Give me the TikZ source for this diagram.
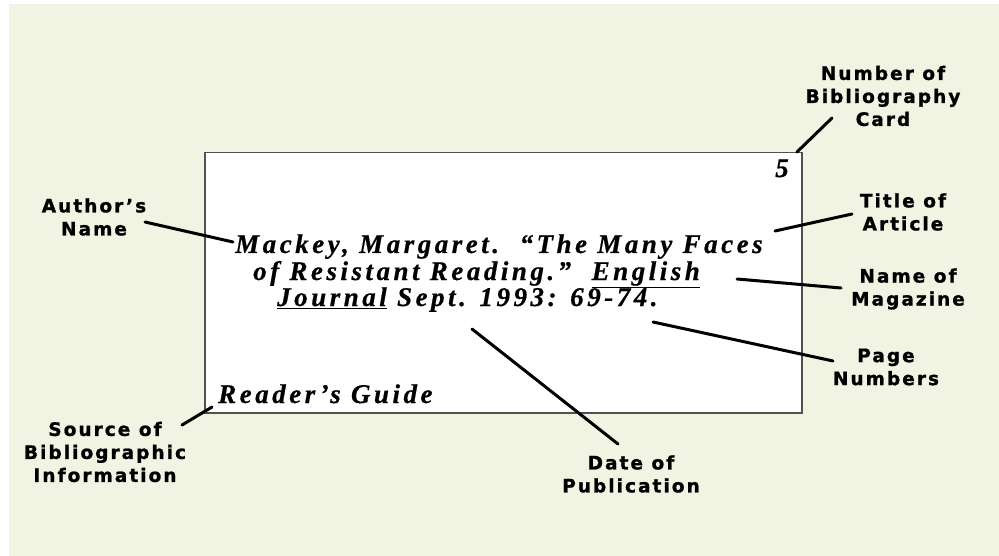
\documentclass[tikz,border=0pt]{standalone}
\usepackage{fontspec}
\setmainfont{Liberation Serif}
\newfontfamily\lblfont{DejaVu Sans}[LetterSpace=11, BoldFeatures={FakeBold=1.2}]
\newfontfamily\cardfont{Liberation Serif}[LetterSpace=13, BoldItalicFeatures={FakeBold=0.6}]
\definecolor{bg}{RGB}{241,243,227}
\definecolor{cardedge}{RGB}{80,80,80}
\begin{document}
\begin{tikzpicture}[x=1pt,y=-1pt,
  lbl/.style={align=center, font=\lblfont\bfseries\fontsize{18.5}{23}\selectfont, inner sep=0pt},
  conn/.style={line width=3pt, line cap=round},
  cardtxt/.style={font=\cardfont\bfseries\itshape\fontsize{27}{26}\selectfont, inner sep=0pt}]
\useasboundingbox (0,0) rectangle (999,556);
\fill[white] (0,0) rectangle (999,556);
\fill[bg] (9,4) rectangle (999,556);
\node[draw=cardedge, fill=white, line width=1.5pt, minimum width=597pt, minimum height=260pt, anchor=north west, inner sep=0pt] (card) at (204,152) {};
% card text
\node[cardtxt, anchor=base west] (l1) at (235,253) {Mackey, Margaret.\ \ “The Many Faces};
\node[cardtxt, anchor=base west] (l2) at (253,280) {of Resistant Reading.”\ \ \underline{English}};
\node[cardtxt, anchor=base west] (l3) at (277,306) {\underline{Journal} Sept. 1993: 69-74.};
\node[cardtxt, anchor=base] (five) at (782,177) {5};
\node[cardtxt, anchor=base west] (src) at (218,403) {Reader’s Guide};
% labels
\node[lbl] (num) at (883,96) {Number of\\Bibliography\\Card};
\node[lbl] (title) at (903,212) {Title of\\Article};
\node[lbl] (mag) at (908,289) {Name of\\Magazine};
\node[lbl] (page) at (886,367) {Page\\Numbers};
\node[lbl] (date) at (631,474) {Date of\\Publication};
\node[lbl] (auth) at (94,217) {Author’s\\Name};
\node[lbl] (source) at (105,452) {Source of\\Bibliographic\\Information};
% connector ends
\coordinate (numA) at (797,152); \coordinate (numB) at (832,118);
\coordinate (titA) at (775,231); \coordinate (titB) at (852,214);
\coordinate (magA) at (737,279); \coordinate (magB) at (841,288);
\coordinate (pagA) at (653,322); \coordinate (pagB) at (833,361);
\coordinate (datA) at (472,329); \coordinate (datB) at (618,444);
\coordinate (autA) at (145,222); \coordinate (autB) at (233,242);
\coordinate (srcA) at (182,425); \coordinate (srcB) at (212,407);
\draw[conn] (numA) -- (numB);
\draw[conn] (titA) -- (titB);
\draw[conn] (magA) -- (magB);
\draw[conn] (pagA) -- (pagB);
\draw[conn] (datA) -- (datB);
\draw[conn] (autA) -- (autB);
\draw[conn] (srcA) -- (srcB);
\end{tikzpicture}
\end{document}
